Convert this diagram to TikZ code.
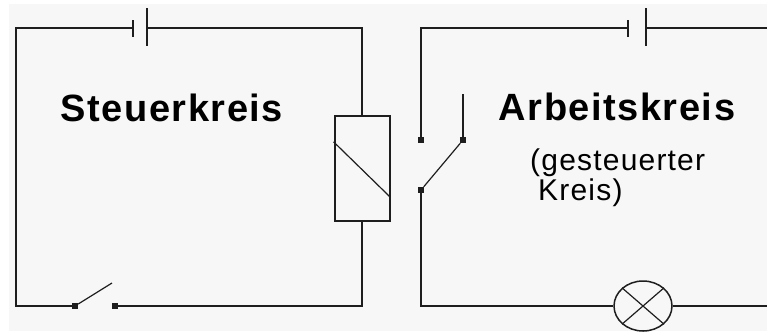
\documentclass[tikz,border=0pt]{standalone}
\usepackage{fontspec}
\setmainfont{Liberation Sans}
\newfontfamily\circfont[LetterSpace=4]{Liberation Sans}
\usetikzlibrary{positioning,
calc,
shapes.geometric}
\definecolor{paper}{HTML}{F7F7F7}
\definecolor{ink}{HTML}{1E1E1E}
\tikzstyle{wire} = [ink, line width=2pt]
\tikzstyle{lever} = [ink, line width=1.2pt]
\tikzstyle{contact} = [rectangle, fill=ink, minimum size=6pt, inner sep=0pt]
\tikzstyle{relay} = [rectangle, draw=ink, line width=2pt, fill=paper,
minimum width=55pt, minimum height=105pt, inner sep=0pt]
\tikzstyle{lamp} = [ellipse, draw=ink, line width=1.5pt, fill=paper,
minimum width=58pt, minimum height=50pt, inner sep=0pt]
\tikzstyle{title} = [font=\circfont\bfseries\fontsize{38}{42}\selectfont,
inner sep=0pt, anchor=base]
\tikzstyle{sub} = [font=\circfont\fontsize{30}{32}\selectfont,
inner sep=0pt, anchor=base west]

\begin{document}
\begin{tikzpicture}[x=1pt, y=-1pt]
            \useasboundingbox (0,0) rectangle (767,333);
            \fill[paper] (9,4) rectangle (767,331);

            % Steuerkreis
            \coordinate (TL1) at (16,28);
            \coordinate (BL1) at (16,306);
            \coordinate (TR1) at (362,28);
            \coordinate (BR1) at (362,306);
            \coordinate (b1s) at (133,28);
            \coordinate (b1l) at (147,28);
            \node [relay] (relay) at (362,168.5) {};
            \node [contact] (sw1a) at (75,306) {};
            \node [contact] (sw1b) at (115,306) {};
            \coordinate (lev1) at (112,283);

            \draw[wire] (b1s) -- (TL1) -- (BL1) -- (sw1a);
            \draw[wire] (b1l) -- (TR1) -- (relay.north);
            \draw[wire] (relay.south) -- (BR1) -- (sw1b);
            \draw[wire] ($(b1s)+(0,-8)$) -- ($(b1s)+(0,9)$);
            \draw[wire] ($(b1l)+(0,-20)$) -- ($(b1l)+(0,18)$);
            \draw[lever] ($(relay.north west)!0.25!(relay.south west)$) -- ($(relay.north east)!0.77!(relay.south east)$);
            \draw[lever] (sw1a) -- (lev1);

            % Arbeitskreis
            \coordinate (TL2) at (421,28);
            \coordinate (BL2) at (421,306);
            \coordinate (TR2) at (767,28);
            \coordinate (BR2) at (767,306);
            \coordinate (b2s) at (628,28);
            \coordinate (b2l) at (646,28);
            \coordinate (pin2) at (463,94);
            \node [contact] (sw2c) at (421,140) {};
            \node [contact] (sw2d) at (463,140) {};
            \node [contact] (sw2e) at (421,190) {};
            \node [lamp] (lamp) at (643,306) {};

            \draw[wire] (b2s) -- (TL2) -- (sw2c);
            \draw[wire] (b2l) -- (TR2);
            \draw[wire] ($(b2s)+(0,-8)$) -- ($(b2s)+(0,9)$);
            \draw[wire] ($(b2l)+(0,-20)$) -- ($(b2l)+(0,18)$);
            \draw[wire] (pin2) -- (sw2d);
            \draw[lever] (sw2e) -- (sw2d);
            \draw[wire] (sw2e) -- (BL2) -- (lamp.west);
            \draw[wire] (lamp.east) -- (BR2);
            \draw[lever] (lamp.north west) -- (lamp.south east);
            \draw[lever] (lamp.south west) -- (lamp.north east);

            \node [title] (steuer) at (172,121) {Steuerkreis};
            \node [title] (arbeit) at (617,120) {Arbeitskreis};
            \node [sub] (gest) at (530,170) {(gesteuerter};
            \node [sub] (kreis) at (538,200) {Kreis)};
        \end{tikzpicture}
\end{document}
